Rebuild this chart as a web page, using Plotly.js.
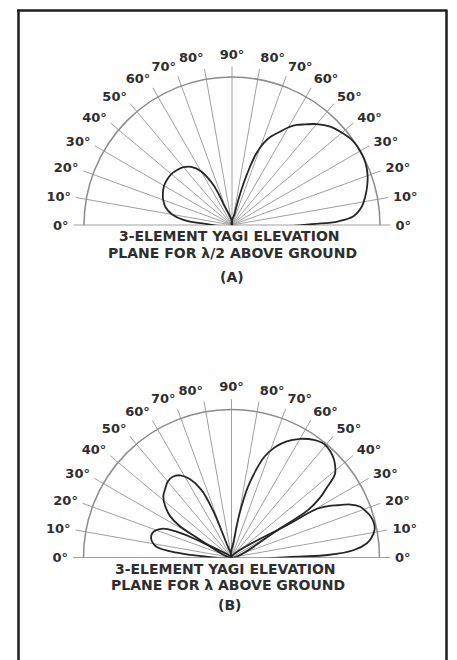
<!DOCTYPE html>
<html>
<head>
<meta charset="utf-8">
<script src="https://cdn.plot.ly/plotly-3.0.1.min.js"></script>
<style>html,body{margin:0;padding:0;background:#fff;}#chart{width:457px;height:660px;}</style>
</head>
<body>
<div id="chart"></div>
<script>
// Angular ticks (elevation angle labels, both sides)
const tickAngles = [0,10,20,30,40,50,60,70,80,90,100,110,120,130,140,150,160,170,180];
const tickLabels = ['0°','10°','20°','30°','40°','50°','60°','70°','80°','90°','80°','70°','60°','50°','40°','30°','20°','10°','0°'];

// (A) lambda/2 above ground – front (main) lobe
const thetaA_front = [0, 1, 2, 4, 8, 12, 16, 20, 25, 30, 35, 40, 45, 50, 54, 57.1, 60.1, 62.8, 66.2, 69, 71.3, 72.8, 74.4, 75.9, 77.2, 78.5];
const rA_front     = [0, 0.6, 0.72, 0.82, 0.885, 0.92, 0.95, 0.975, 0.995, 1.0, 0.995, 0.97, 0.94, 0.89, 0.84, 0.805, 0.76, 0.709, 0.653, 0.591, 0.506, 0.412, 0.30, 0.174, 0.076, 0];
// (A) back lobe
const thetaA_back = [110, 112, 115, 120, 125, 130, 135, 140, 145, 150, 155, 160, 165, 170, 174, 177, 180];
const rA_back     = [0, 0.15, 0.3, 0.42, 0.48, 0.51, 0.525, 0.535, 0.535, 0.53, 0.515, 0.495, 0.465, 0.41, 0.33, 0.2, 0];

// (B) lambda above ground – low front lobe
const thetaB_front1 = [0, 0.7, 1.5, 3.5, 6, 8, 11, 13.5, 16.5, 19, 21.5, 24, 26.2, 28, 29.6, 30.2, 30.5];
const rB_front1     = [0, 0.4, 0.65, 0.83, 0.92, 0.955, 0.985, 0.99, 0.98, 0.96, 0.935, 0.88, 0.8, 0.74, 0.67, 0.45, 0];
// (B) high front lobe
const thetaB_front2 = [30.5, 31, 31.8, 34, 36.3, 39, 43.4, 47, 50.8, 55, 59.6, 63, 66.4, 69, 71.8, 74, 76.9, 78.5, 80.2, 82, 83];
const rB_front2     = [0, 0.4, 0.61, 0.72, 0.80, 0.90, 0.955, 0.98, 0.99, 0.97, 0.93, 0.89, 0.84, 0.79, 0.72, 0.63, 0.49, 0.38, 0.26, 0.12, 0];
// (B) high back lobe
const thetaB_back2 = [108, 109.5, 110.5, 111.5, 114, 118, 122, 126, 130, 134, 138, 142, 146, 148.5, 150, 151];
const rB_back2     = [0, 0.1, 0.2, 0.34, 0.5, 0.6, 0.655, 0.675, 0.67, 0.645, 0.62, 0.57, 0.5, 0.42, 0.3, 0];
// (B) low back lobe
const thetaB_back1 = [151.5, 152.5, 153.5, 155, 157, 160, 163, 166, 169, 172, 175, 177.5, 180];
const rB_back1     = [0, 0.2, 0.31, 0.42, 0.5, 0.54, 0.56, 0.56, 0.545, 0.51, 0.37, 0.2, 0];

const textColor = '#2e2e2e';
const lobeLine = {color:'#262626', width:1.8, shape:'spline', smoothing:1};

function lobe(theta, r, subplot){
  return {type:'scatterpolar', subplot:subplot, theta:theta, r:r, mode:'lines',
          line:lobeLine, hoverinfo:'skip', showlegend:false};
}

const data = [
  lobe(thetaA_front, rA_front, 'polar'),
  lobe(thetaA_back, rA_back, 'polar'),
  lobe(thetaB_front1, rB_front1, 'polar2'),
  lobe(thetaB_front2, rB_front2, 'polar2'),
  lobe(thetaB_back2, rB_back2, 'polar2'),
  lobe(thetaB_back1, rB_back1, 'polar2')
];

function polarLayout(dx, dy){
  return {
    domain:{x:dx, y:dy},
    sector:[0,180],
    bgcolor:'rgba(0,0,0,0)',
    radialaxis:{range:[0,1.07], tickmode:'array', tickvals:[1], showticklabels:false, ticks:'',
                showline:false, showgrid:true, gridcolor:'#8c8c8c', gridwidth:1.5},
    angularaxis:{tickmode:'array', tickvals:tickAngles, ticktext:tickLabels,
                 direction:'counterclockwise', rotation:0, showline:false,
                 showgrid:true, gridcolor:'#a0a0a0', gridwidth:1,
                 ticks:'outside', ticklen:2, tickcolor:'rgba(0,0,0,0)',
                 tickfont:{family:'DejaVu Sans', size:13, color:textColor, weight:'bold'}}
  };
}

function ann(text, xpx, ypx){
  return {xref:'paper', yref:'paper', x:xpx/457, y:(660-ypx)/660, xanchor:'center', yanchor:'middle',
          text:text, showarrow:false,
          font:{family:'DejaVu Sans', size:14, color:textColor, weight:'bold'}};
}

const layout = {
  width:457, height:660,
  margin:{l:0, r:0, t:0, b:0},
  paper_bgcolor:'#ffffff',
  showlegend:false,
  polar: polarLayout([0.16114, 0.85418], [0.65909, 0.89903]),
  polar2: polarLayout([0.16004, 0.85309], [0.15530, 0.39524]),
  annotations:[
    ann('3-ELEMENT YAGI ELEVATION', 230, 236),
    ann('PLANE FOR λ/2 ABOVE GROUND', 232, 252.5),
    ann('(A)', 232, 277),
    ann('3-ELEMENT YAGI ELEVATION', 225, 568.5),
    ann('PLANE FOR λ ABOVE GROUND', 228, 585),
    ann('(B)', 230, 605)
  ],
  shapes:[
    {type:'line', xref:'paper', yref:'paper', x0:17/457, x1:447.5/457, y0:(660-10.5)/660, y1:(660-10.5)/660, line:{color:'#1e1e1e', width:2.5}},
    {type:'line', xref:'paper', yref:'paper', x0:18.5/457, x1:18.5/457, y0:(660-10.5)/660, y1:0, line:{color:'#1e1e1e', width:2.5}},
    {type:'line', xref:'paper', yref:'paper', x0:446.5/457, x1:446.5/457, y0:(660-10.5)/660, y1:0, line:{color:'#1e1e1e', width:2.5}}
  ]
};

Plotly.newPlot('chart', data, layout, {staticPlot:true, displayModeBar:false});
</script>
</body>
</html>
